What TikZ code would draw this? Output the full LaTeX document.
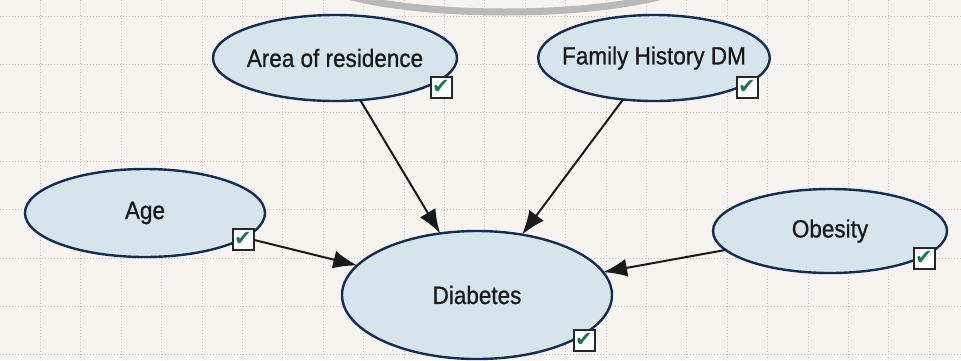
\documentclass[tikz,border=0pt]{standalone}
\usepackage{fontspec}
\setmainfont{Liberation Sans}[FakeStretch=0.9]
\newfontfamily\nodefont{Liberation Sans}[FakeStretch=0.9,FakeBold=0.8]
\newfontfamily\symfont{DejaVu Sans}
\usetikzlibrary{shapes.geometric,arrows.meta}
\definecolor{nodefill}{RGB}{214,229,236}
\definecolor{nodeline}{RGB}{22,44,86}
\definecolor{paper}{RGB}{247,244,240}
\definecolor{checkgreen}{RGB}{28,118,78}
\definecolor{gridgray}{RGB}{200,198,195}

\begin{document}
\begin{tikzpicture}[x=1pt,y=-1pt]
	\tikzstyle{Node} = [ellipse, draw=nodeline, line width=2.4pt, fill=nodefill, inner xsep=-10pt, inner ysep=0pt, outer sep=0pt, text=black!90, font=\nodefont\fontsize{25}{30}\selectfont]
	\tikzstyle{Check} = [rectangle, draw=black!85, line width=2pt, fill=white, minimum size=21pt, inner sep=0pt, text=checkgreen, font=\symfont\fontsize{21}{21}\selectfont]
	\tikzstyle{arrow} = [line width=2pt, black!90, -{Latex[length=24pt,width=18pt]}]

	\useasboundingbox (0,0) rectangle (961,360);
	\fill [paper] (0,0) rectangle (961,360);
	% grid
	\foreach \x in {1,...,23}
		\draw [gridgray, dotted, line width=1pt] (\x*40.4,0) -- (\x*40.4,360);
	\foreach \y in {0,...,7}
		\draw [gridgray, dotted, line width=1pt] (0,16+\y*48.4) -- (961,16+\y*48.4);
	% arc at the top
	\begin{scope}
		\clip (0,0) rectangle (961,360);
		\draw [gray!55, line width=7pt] (505,-30) ellipse [x radius=200, y radius=42];
	\end{scope}

	\node (area) [Node, minimum width=244pt, minimum height=86pt] at (335,58) {Area of residence};
	\node (fam) [Node, minimum width=228pt, minimum height=86pt] at (654,58) {Family History DM};
	\node (age) [Node, minimum width=240pt, minimum height=88pt] at (145,213) {Age};
	\node (obe) [Node, minimum width=234pt, minimum height=84pt] at (830,231) {Obesity};
	\node (diab) [Node, minimum width=270pt, minimum height=128pt] at (477,295) {Diabetes};

	\draw [arrow] (area) -- (diab);
	\draw [arrow] (fam) -- (diab);
	\draw [arrow] (age) -- (diab);
	\draw [arrow] (obe) -- (diab);

	\node (areachk) [Check] at (441,87) {✔};
	\node (famchk) [Check] at (747,87) {✔};
	\node (agechk) [Check] at (243,239) {✔};
	\node (obechk) [Check] at (924,258) {✔};
	\node (diabchk) [Check] at (584,340) {✔};
\end{tikzpicture}
\end{document}
